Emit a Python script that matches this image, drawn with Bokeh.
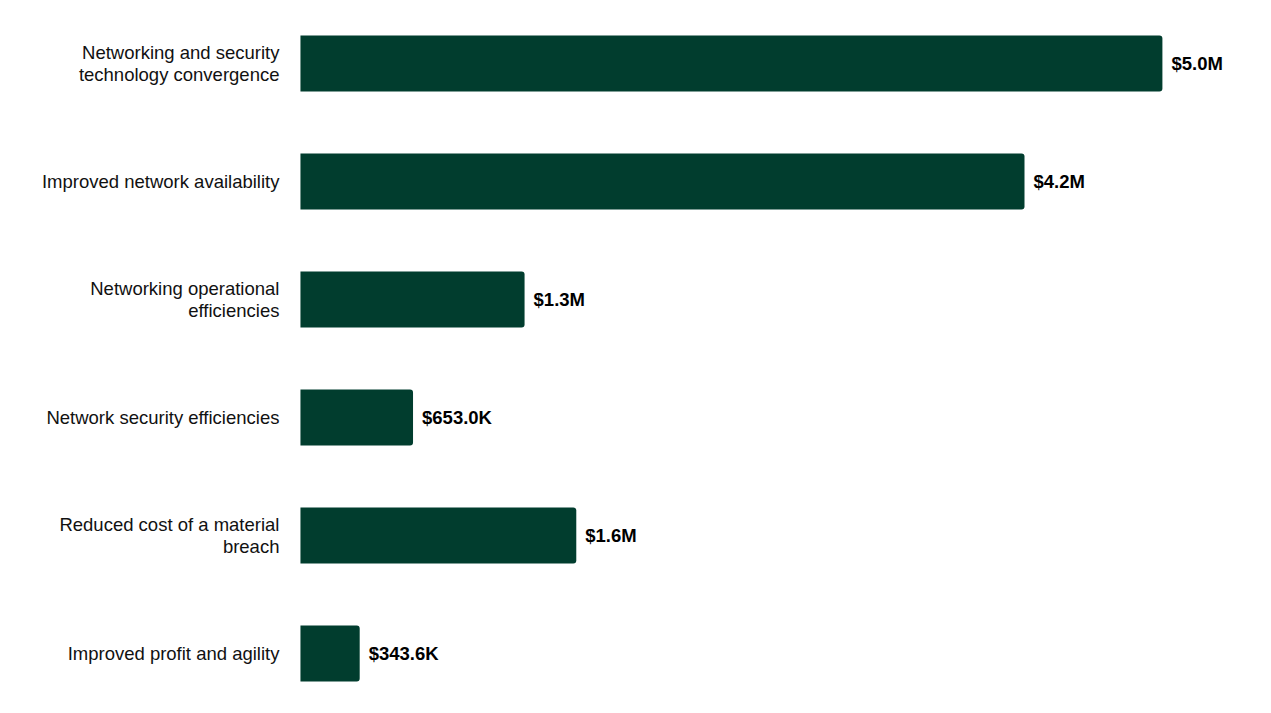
from bokeh.plotting import figure
from bokeh.models import ColumnDataSource, FactorRange
from bokeh.core.properties import value
from bokeh.embed import file_html
from bokeh.resources import INLINE

categories = [
    "Networking and security\ntechnology convergence",
    "Improved network availability",
    "Networking operational\nefficiencies",
    "Network security efficiencies",
    "Reduced cost of a material\nbreach",
    "Improved profit and agility",
]
values_musd = [5.0, 4.2, 1.3, 0.653, 1.6, 0.3436]
value_labels = ["$5.0M", "$4.2M", "$1.3M", "$653.0K", "$1.6M", "$343.6K"]

BAR_COLOR = "#013D2E"
FONT = "Liberation Sans"

src = ColumnDataSource(dict(cat=categories, val=values_musd, lab=value_labels, zero=[0] * len(categories)))

y_range = FactorRange(factors=list(reversed(categories)), range_padding=-0.051, range_padding_units="absolute")

p = figure(width=1255, height=706, y_range=y_range, x_range=(-1.740, 5.540),
           output_backend="svg", toolbar_location=None,
           min_border_left=0, min_border_right=0, min_border_top=10, min_border_bottom=0)
p.outline_line_color = None
p.xaxis.visible = False
p.yaxis.visible = False
p.grid.visible = False
p.background_fill_color = "white"
p.border_fill_color = "white"

p.hbar(y="cat", left=0, right="val", height=0.475, source=src, fill_color=BAR_COLOR,
       line_color=None, border_radius=(0, 3, 3, 0))

p.text(x="val", y="cat", text="lab", source=src, x_offset=9, text_align="left",
       text_baseline="middle", text_font=value(FONT), text_font_size="18.5px",
       text_font_style="bold", text_color="#000000")

p.text(x="zero", y="cat", text="cat", source=src, x_offset=-21, text_align="right",
       text_baseline="middle", text_font=value(FONT), text_font_size="18.5px",
       text_color="#111111", text_line_height=1.03)

open("out.html", "w").write(file_html(p, INLINE))
